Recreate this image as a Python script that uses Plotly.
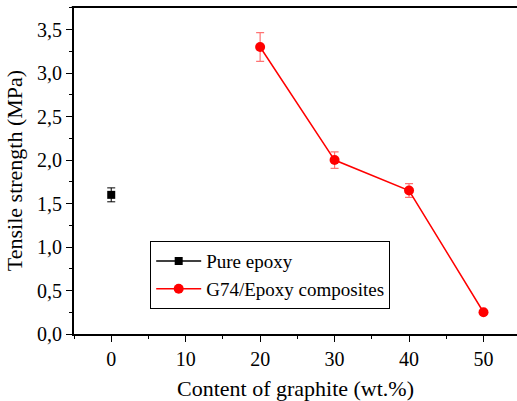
import plotly.graph_objects as go

# Data
pure_x = [0]
pure_y = [1.6]
pure_err = [0.08]

comp_x = [20, 30, 40, 50]
comp_y = [3.3, 2.0, 1.65, 0.25]
comp_err = [0.165, 0.095, 0.08, 0.0]

x_ticks = [0, 10, 20, 30, 40, 50]
y_ticks = [0.0, 0.5, 1.0, 1.5, 2.0, 2.5, 3.0, 3.5]

FONT = "Liberation Serif"

fig = go.Figure()
fig.add_trace(go.Scatter(
    x=pure_x, y=pure_y, mode="lines+markers", name="Pure epoxy",
    line=dict(color="black", width=1.5),
    marker=dict(symbol="square", size=8, color="black"),
    error_y=dict(type="data", array=pure_err, visible=True, color="black",
                 thickness=1, width=4),
))
fig.add_trace(go.Scatter(
    x=comp_x, y=comp_y, mode="lines+markers", name="G74/Epoxy composites",
    line=dict(color="#ff0000", width=1.5),
    marker=dict(symbol="circle", size=10, color="#ff0000"),
    error_y=dict(type="data", array=comp_err, visible=True, color="rgba(255,80,80,0.8)",
                 thickness=1.2, width=4),
))

fig.update_layout(
    width=517, height=401,
    margin=dict(l=74, r=0, t=7, b=67),
    paper_bgcolor="white", plot_bgcolor="white",
    font=dict(family=FONT, size=20, color="black"),
    separators=",.",
    showlegend=True,
    legend=dict(
        x=0.172, y=0.284, xanchor="left", yanchor="top",
        bordercolor="black", borderwidth=1, bgcolor="white",
        font=dict(family=FONT, size=19, color="black"),
        itemwidth=45, tracegroupgap=0,
    ),
    xaxis=dict(
        range=[-5, 54.5], tickvals=x_ticks, ticks="outside", ticklen=6,
        tickwidth=1.2, tickcolor="black",
        showline=True, linecolor="black", linewidth=1.8, mirror=False,
        showgrid=False, zeroline=False,
        minor=dict(dtick=5, tick0=0, ticks="outside", ticklen=3, tickwidth=1.2, tickcolor="black"),
        title=dict(text="Content of graphite (wt.%)", font=dict(family=FONT, size=22), standoff=12),
        tickfont=dict(family=FONT, size=20),
    ),
    yaxis=dict(
        range=[0, 3.76], tickvals=y_ticks, tickformat=".1f", ticks="outside", ticklen=6,
        tickwidth=1.2, tickcolor="black",
        showline=True, linecolor="black", linewidth=1.8,
        showgrid=False, zeroline=False,
        minor=dict(dtick=0.25, tick0=0, ticks="outside", ticklen=3, tickwidth=1.2, tickcolor="black"),
        title=dict(text="Tensile strength (MPa)", font=dict(family=FONT, size=22), standoff=8),
        tickfont=dict(family=FONT, size=20),
    ),
)
# top border line of the frame
fig.add_shape(type="line", xref="paper", yref="paper", x0=-0.005, x1=1, y0=1, y1=1,
              line=dict(color="black", width=1.8))

fig.write_html("out.html")
